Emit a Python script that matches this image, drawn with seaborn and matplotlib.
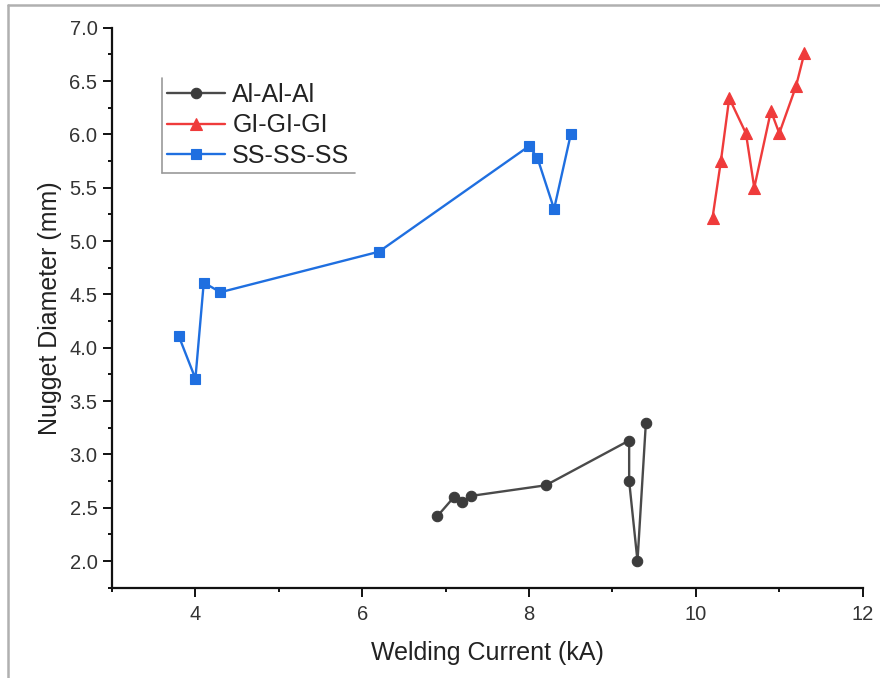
import matplotlib
matplotlib.use("Agg")
import matplotlib.pyplot as plt
from matplotlib.lines import Line2D
from matplotlib.ticker import MultipleLocator
import numpy as np
import pandas as pd
import seaborn as sns

# Welding current (kA) and nugget diameter (mm) for each stack-up
al_current = [6.9, 7.1, 7.2, 7.3, 8.2, 9.2, 9.2, 9.3, 9.4]
al_diameter = [2.42, 2.60, 2.55, 2.61, 2.71, 3.13, 2.75, 2.00, 3.29]

gi_current = [10.2, 10.3, 10.4, 10.6, 10.7, 10.9, 11.0, 11.2, 11.3]
gi_diameter = [5.22, 5.75, 6.34, 6.01, 5.50, 6.22, 6.01, 6.45, 6.76]

ss_current = [3.8, 4.0, 4.1, 4.3, 6.2, 8.0, 8.1, 8.3, 8.5]
ss_diameter = [4.11, 3.71, 4.61, 4.52, 4.90, 5.89, 5.78, 5.30, 6.00]

series_names = ["Al-Al-Al", "GI-GI-GI", "SS-SS-SS"]
x_ticks = [4, 6, 8, 10, 12]
y_ticks = [2.0, 2.5, 3.0, 3.5, 4.0, 4.5, 5.0, 5.5, 6.0, 6.5, 7.0]

sns.set_theme(style="ticks")
plt.rcParams["font.family"] = ["Liberation Sans", "DejaVu Sans"]

fig = plt.figure(figsize=(8.8, 6.78), dpi=100)
ax = fig.add_axes([112 / 880, 1 - 587.7 / 678, (862.7 - 112) / 880, (587.7 - 27.7) / 678])

styles = {
    "Al-Al-Al": dict(color="#4a4a4a", mfc="#3c3c3c", marker="o", ms=7.5),
    "GI-GI-GI": dict(color="#ef3b3b", mfc="#ef3b3b", marker="^", ms=9),
    "SS-SS-SS": dict(color="#1f6fe0", mfc="#1f6fe0", marker="s", ms=7),
}
data = {
    "Al-Al-Al": (al_current, al_diameter),
    "GI-GI-GI": (gi_current, gi_diameter),
    "SS-SS-SS": (ss_current, ss_diameter),
}

for name in series_names:
    xs, ys = data[name]
    df = pd.DataFrame({"current": xs, "diameter": ys})
    st = styles[name]
    sns.lineplot(data=df, x="current", y="diameter", ax=ax, sort=False,
                 estimator=None, color=st["color"], marker=st["marker"],
                 markersize=st["ms"], markerfacecolor=st["mfc"],
                 markeredgecolor=st["mfc"], markeredgewidth=0.8,
                 linewidth=1.7, label=name)

ax.set_xlim(3, 12)
ax.set_ylim(1.75, 7.0)
ax.set_xticks(x_ticks)
ax.set_yticks(y_ticks)
ax.set_yticklabels([f"{v:.1f}" for v in y_ticks])
ax.xaxis.set_minor_locator(MultipleLocator(1))
ax.yaxis.set_minor_locator(MultipleLocator(0.25))

for side in ("top", "right"):
    ax.spines[side].set_visible(False)
for side in ("left", "bottom"):
    ax.spines[side].set_color("#111111")
    ax.spines[side].set_linewidth(1.6)

ax.tick_params(axis="both", which="major", direction="out", length=6.5,
               width=1.4, color="#111111", labelsize=14.5, labelcolor="#333333")
ax.tick_params(axis="both", which="minor", direction="out", length=3.2,
               width=1.4, color="#111111")
ax.tick_params(axis="x", which="major", pad=6)
ax.tick_params(axis="y", which="major", pad=4)

ax.set_xlabel("Welding Current (kA)", fontsize=18, color="#222222", labelpad=12)
ax.set_ylabel("Nugget Diameter (mm)", fontsize=18, color="#222222", labelpad=5)

leg = ax.legend(loc="upper left", bbox_to_anchor=(0.067, 0.91), frameon=False,
                fontsize=18, handlelength=2.3, handletextpad=0.3,
                labelspacing=0.25, borderpad=0.2, borderaxespad=0)
for txt in leg.get_texts():
    txt.set_color("#222222")

# Origin-style legend frame: only left and bottom edges
fig.canvas.draw()
bb = leg.get_window_extent().transformed(fig.transFigure.inverted())
fig.add_artist(Line2D([bb.x0, bb.x0], [bb.y0, bb.y1], transform=fig.transFigure,
                      color="#9a9a9a", linewidth=1.2))
fig.add_artist(Line2D([bb.x0, bb.x1], [bb.y0, bb.y0], transform=fig.transFigure,
                      color="#9a9a9a", linewidth=1.2))

# Page border along the top and left edges
fig.add_artist(Line2D([8 / 880, 1.0], [1 - 5 / 678, 1 - 5 / 678],
                      transform=fig.transFigure, color="#b0b0b0", linewidth=1.8))
fig.add_artist(Line2D([8 / 880, 8 / 880], [0.0, 1 - 5 / 678],
                      transform=fig.transFigure, color="#b0b0b0", linewidth=1.8))

fig.savefig("out.png", dpi=100, facecolor="white")
